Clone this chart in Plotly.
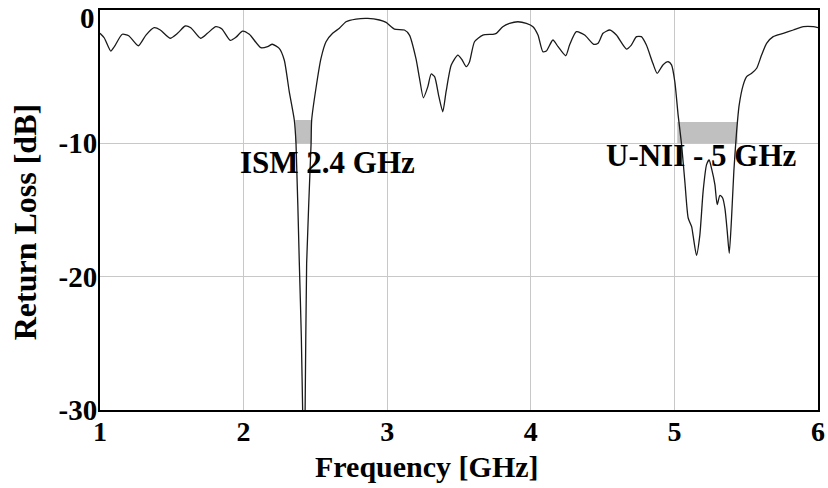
import plotly.graph_objects as go

freq_ghz = [
    1.000, 1.030, 1.075, 1.100, 1.155, 1.200, 1.267, 1.320, 1.377, 1.420,
    1.488, 1.540, 1.593, 1.632, 1.700, 1.748, 1.807, 1.849, 1.907, 1.946,
    1.993, 2.040, 2.120, 2.167, 2.200, 2.248, 2.283, 2.318, 2.353, 2.365,
    2.388, 2.402, 2.412, 2.420, 2.428, 2.439, 2.470, 2.474, 2.504, 2.539,
    2.574, 2.620, 2.667, 2.713, 2.783, 2.864, 2.946, 2.992, 3.050, 3.120,
    3.155, 3.200, 3.225, 3.252, 3.283, 3.306, 3.330, 3.360, 3.387, 3.410,
    3.446, 3.492, 3.522, 3.550, 3.573, 3.608, 3.666, 3.736, 3.760, 3.805,
    3.852, 3.910, 3.969, 4.015, 4.050, 4.084, 4.108, 4.154, 4.190, 4.243,
    4.270, 4.317, 4.375, 4.438, 4.468, 4.503, 4.550, 4.596, 4.666, 4.700,
    4.736, 4.770, 4.805, 4.850, 4.880, 4.920, 4.957, 4.980, 5.003, 5.026,
    5.050, 5.073, 5.096, 5.120, 5.130, 5.154, 5.177, 5.200, 5.224, 5.242,
    5.259, 5.282, 5.298, 5.317, 5.336, 5.352, 5.368, 5.382, 5.398, 5.414,
    5.433, 5.451, 5.479, 5.503, 5.538, 5.573, 5.607, 5.642, 5.688, 5.758,
    5.828, 5.898, 5.967, 6.000,
]
return_loss_db = [
    -1.75, -2.10, -3.08, -2.75, -1.82, -1.93, -2.68, -1.88, -1.33, -1.50,
    -2.12, -1.75, -1.20, -1.33, -2.12, -1.75, -1.25, -1.43, -2.28, -2.05,
    -1.58, -1.82, -2.83, -2.75, -2.57, -2.88, -3.75, -6.13, -8.25, -10.0,
    -19.0, -24.5, -30.5, -34.0, -30.5, -19.0, -10.0, -8.25, -5.87, -3.63,
    -2.38, -1.75, -1.37, -0.88, -0.68, -0.63, -0.75, -0.93, -1.43, -1.50,
    -1.88, -3.63, -5.12, -6.58, -5.75, -4.80, -5.00, -6.50, -7.63, -6.13,
    -4.13, -3.38, -3.75, -4.25, -3.90, -2.38, -1.88, -1.82, -1.75, -1.25,
    -1.00, -0.88, -1.00, -1.25, -1.88, -3.13, -3.08, -2.25, -2.75, -3.43,
    -2.63, -1.63, -1.88, -2.57, -2.50, -1.75, -1.50, -1.88, -2.93, -2.63,
    -2.00, -2.00, -2.63, -4.00, -4.75, -4.12, -3.88, -4.12, -5.38, -7.88,
    -10.1, -12.9, -15.6, -16.25, -16.9, -18.4, -16.9, -13.6, -11.6, -11.25,
    -11.9, -13.1, -14.6, -13.9, -14.1, -14.9, -16.6, -18.25, -15.6, -12.1,
    -9.13, -7.13, -5.63, -5.00, -4.75, -4.37, -3.38, -2.50, -2.00, -1.75,
    -1.50, -1.25, -1.25, -1.33,
]

band_labels = ["ISM 2.4 GHz", "U-NII - 5 GHz"]
band_lo_ghz = [2.36, 5.02]
band_hi_ghz = [2.47, 5.44]
band_top_db = [-8.25, -8.4]
band_bottom_db = [-10.0, -10.0]
label_x_ghz = [2.583, 5.188]
label_y_db = [-11.4, -10.9]

x_ticks = [1, 2, 3, 4, 5, 6]
y_ticks = [-10, -20, -30]
y_top_tick = 0  # drawn as a label nudged just below the frame, as in the source

FONT = "Liberation Serif, Times New Roman, serif"

fig = go.Figure()

for lo, hi, top, bot in zip(band_lo_ghz, band_hi_ghz, band_top_db, band_bottom_db):
    fig.add_shape(type="rect", x0=lo, x1=hi, y0=bot, y1=top, xref="x", yref="y",
                  fillcolor="#c0c0c0", line=dict(width=0), layer="between")

fig.add_trace(go.Scatter(
    x=freq_ghz, y=return_loss_db, mode="lines",
    line=dict(color="#1a1a1a", width=1.3, shape="spline", smoothing=0.6),
    showlegend=False, hoverinfo="skip",
))

for txt, lx, ly in zip(band_labels, label_x_ghz, label_y_db):
    fig.add_annotation(x=lx, y=ly, xref="x", yref="y", text=f"<b>{txt}</b>",
                       showarrow=False, xanchor="center", yanchor="middle",
                       font=dict(family=FONT, size=31, color="black"))

fig.add_annotation(x=0, y=y_top_tick, xref="paper", yref="y",
                   text=f"<b>{y_top_tick}</b>", showarrow=False,
                   xanchor="right", yanchor="middle", xshift=-3, yshift=-8,
                   font=dict(family=FONT, size=29, color="black"))

fig.add_annotation(x=0.455, y=-0.14, xref="paper", yref="paper",
                   text="<b>Frequency [GHz]</b>", showarrow=False,
                   xanchor="center", yanchor="middle",
                   font=dict(family=FONT, size=30, color="black"))
fig.add_annotation(x=-0.104, y=0.47, xref="paper", yref="paper",
                   text="<b>Return Loss [dB]</b>", showarrow=False, textangle=-90,
                   xanchor="center", yanchor="middle",
                   font=dict(family=FONT, size=32, color="black"))

fig.update_layout(
    width=828, height=488,
    margin=dict(l=100, r=10, t=10, b=78, autoexpand=False),
    paper_bgcolor="white", plot_bgcolor="white",
    font=dict(family=FONT, color="black"),
)
fig.update_xaxes(
    range=[1, 6], tickvals=x_ticks, ticktext=[f"<b>{v}</b>" for v in x_ticks],
    tickfont=dict(family=FONT, size=28, color="black"),
    showgrid=True, gridcolor="#c8c8c8", gridwidth=1,
    showline=True, linecolor="black", linewidth=2, mirror=True,
    ticks="", zeroline=False, ticklabelstandoff=-5, ticklabeloverflow="allow",
    automargin=False,
)
fig.update_yaxes(
    range=[-30, 0], tickvals=y_ticks, ticktext=[f"<b>{v}</b>" for v in y_ticks],
    tickfont=dict(family=FONT, size=29, color="black"),
    showgrid=True, gridcolor="#c8c8c8", gridwidth=1,
    showline=True, linecolor="black", linewidth=2, mirror=True,
    ticks="", zeroline=False, ticklabelstandoff=-5, ticklabeloverflow="allow",
    automargin=False,
)

fig.write_html(
    "out.html",
    config={"displayModeBar": False},
    post_script="document.body.style.margin='0';document.body.style.overflow='hidden';",
)
